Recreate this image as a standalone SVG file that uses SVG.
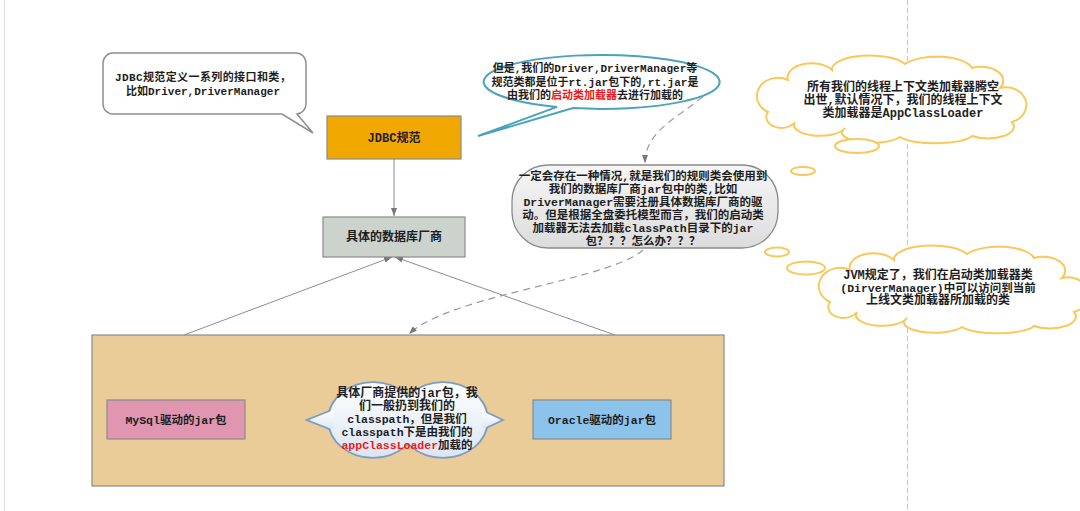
<svg xmlns="http://www.w3.org/2000/svg" width="1080" height="511" viewBox="0 0 1080 511">
<style>
.t{font-family:"Liberation Mono","Noto Sans CJK SC",monospace;font-weight:bold;fill:#1e1e1e;text-anchor:middle;}
.s11{font-size:11px;}
.s12{font-size:12px;}
.s115{font-size:11.5px;}
.red{fill:#f01818;}
.box{stroke:#8a8a8a;stroke-width:1.2;}
.conn{fill:none;stroke:#8c8c8c;stroke-width:1;}
.dash{fill:none;stroke:#9a9a9a;stroke-width:1.2;stroke-dasharray:7,5;}
.cloud{fill:#fff;stroke:#f9c858;stroke-width:2;}
.bub{fill:#fff;stroke:#f9c858;stroke-width:2;}
</style>
<defs>
<marker id="arr" markerUnits="userSpaceOnUse" markerWidth="8" markerHeight="6" refX="8" refY="3" orient="auto">
<path d="M0,0 L8,3 L0,6 z" fill="#777"/>
</marker>
<linearGradient id="gGray" x1="0" y1="0" x2="0" y2="1">
<stop offset="0" stop-color="#f6f6f6"/>
<stop offset="1" stop-color="#dcdcdc"/>
</linearGradient>
<linearGradient id="gBlue" x1="0" y1="0" x2="0" y2="1">
<stop offset="0" stop-color="#ffffff"/>
<stop offset="1" stop-color="#dbe5f2"/>
</linearGradient>
<path id="cloudShape" d="M768,112 A14,12 0 0 1 788,80 A24,14 0 0 1 832,70 A38,14 0 0 1 905,64 A36,14 0 0 1 972,68 A22,14 0 0 1 1000,88 A16,14 0 0 1 1012,122 A26,12 0 0 1 972,136 A38,10 0 0 1 900,137 A30,10 0 0 1 845,128 A24,10 0 0 1 795,122 A14,10 0 0 1 768,112 Z"/>
</defs>
<rect width="1080" height="511" fill="#ffffff"/>
<line x1="4.5" y1="0" x2="4.5" y2="511" stroke="#dddddd" stroke-width="1"/>
<line x1="907.5" y1="0" x2="907.5" y2="511" stroke="#c4c4c4" stroke-width="1" stroke-dasharray="5,3"/>

<g id="vendor-container">
<rect x="92" y="335" width="632" height="151" fill="#e9cc98" class="box"/>
</g>

<g id="connectors">
<line class="conn" x1="394" y1="159" x2="394" y2="216" marker-end="url(#arr)"/>
<line class="conn" x1="184" y1="335" x2="392" y2="257" marker-end="url(#arr)"/>
<line class="conn" x1="615" y1="335" x2="395" y2="257" marker-end="url(#arr)"/>
<path class="dash" d="M720,80 C690,115 645,125 645,163" marker-end="url(#arr)"/>
<path class="dash" d="M643,250 C610,280 450,295 409,334" marker-end="url(#arr)"/>
</g>

<g id="callout-jdbc-def">
<path d="M113,53 H296 A10,10 0 0 1 306,63 V104 A10,10 0 0 1 297,114 L313,133 L282,114 H113 A10,10 0 0 1 103,104 V63 A10,10 0 0 1 113,53 Z" fill="#fff" stroke="#8f8f8f" stroke-width="1.5"/>
<text class="t s11" x="203" y="81" letter-spacing="0.4">JDBC规范定义一系列的接口和类，</text>
<text class="t s11" x="203" y="95">比如Driver,DriverManager</text>
</g>

<g id="node-jdbc">
<rect x="327" y="116" width="134" height="43" fill="#f0a700" class="box"/>
<text class="t s12" x="394" y="142">JDBC规范</text>
</g>

<g id="node-vendor">
<rect x="323" y="217" width="142" height="40" fill="#cbd3cc" class="box"/>
<text class="t s12" x="394" y="241">具体的数据库厂商</text>
</g>

<g id="callout-bootstrap">
<path d="M573,108.1 A118,27 0 1 0 557,106.9 L478,136 Z" fill="#fff" stroke="#4aa3b9" stroke-width="2"/>
<text class="t s11" x="595" y="72">但是,我们的Driver,DriverManager等</text>
<text class="t s11" x="595" y="85.5">规范类都是位于rt.jar包下的,rt.jar是</text>
<text class="t s11" x="595" y="99">由我们的<tspan class="red">启动类加载器</tspan>去进行加载的</text>
</g>

<g id="callout-problem">
<rect x="512" y="165" width="266" height="83" rx="36" ry="36" fill="url(#gGray)" stroke="#8a8a8a" stroke-width="1.3"/>
<text class="t s115" x="643" y="179.5">一定会存在一种情况,就是我们的规则类会使用到</text>
<text class="t s115" x="643" y="192.5">我们的数据库厂商jar包中的类,比如</text>
<text class="t s115" x="643" y="205.5">DriverManager需要注册具体数据库厂商的驱</text>
<text class="t s115" x="643" y="218.5">动。但是根据全盘委托模型而言，我们的启动类</text>
<text class="t s115" x="643" y="231.5">加载器无法去加载classPath目录下的jar</text>
<text class="t s115" x="643" y="244.5">包？？？怎么办？？？</text>
</g>

<g id="cloud-context">
<use href="#cloudShape" class="cloud"/>
<ellipse class="bub" cx="857" cy="146" rx="22" ry="7"/>
<ellipse class="bub" cx="803" cy="171" rx="12" ry="4"/>
<text class="t s12" x="903" y="91">所有我们的线程上下文类加载器腾空</text>
<text class="t s12" x="903" y="104">出世,默认情况下，我们的线程上下文</text>
<text class="t s12" x="903" y="117">类加载器是AppClassLoader</text>
</g>

<g id="cloud-jvm">
<ellipse class="bub" cx="777" cy="252" rx="12" ry="4.5"/>
<ellipse class="bub" cx="806" cy="268" rx="19" ry="6.5"/>
<use href="#cloudShape" class="cloud" transform="translate(62,190)"/>
<text class="t s12" x="938" y="279">JVM规定了，我们在启动类加载器类</text>
<text class="t s115" x="938" y="291.5">(DirverManager)中可以访问到当前</text>
<text class="t s12" x="938" y="304">上线文类加载器所加载的类</text>
</g>

<g id="node-mysql">
<rect x="107" y="400" width="138" height="39" fill="#e096b1" class="box"/>
<text class="t s115" x="176" y="424">MySql驱动的jar包</text>
</g>

<g id="node-oracle">
<rect x="533" y="400" width="138" height="39" fill="#8bc3ea" class="box"/>
<text class="t s115" x="602" y="424">Oracle驱动的jar包</text>
</g>

<g id="callout-classpath">
<g stroke="#7b9cc4" stroke-width="3.5" fill="#fff">
<ellipse cx="373" cy="420" rx="44" ry="37"/>
<ellipse cx="443" cy="420" rx="44" ry="37"/>
<path d="M334,410 L309,420 L334,430 Z"/>
<path d="M482,411 L501,420 L482,429 Z"/>
</g>
<g fill="url(#gBlue)">
<ellipse cx="373" cy="420" rx="44" ry="37"/>
<ellipse cx="443" cy="420" rx="44" ry="37"/>
<path d="M334,410 L309,420 L334,430 Z"/>
<path d="M482,411 L501,420 L482,429 Z"/>
</g>
<text class="t s12" x="407" y="397">具体厂商提供的jar包，我</text>
<text class="t s12" x="407" y="410">们一般扔到我们的</text>
<text class="t s115" x="407" y="423">classpath，但是我们</text>
<text class="t s115" x="407" y="436">classpath下是由我们的</text>
<text class="t s115" x="407" y="449"><tspan class="red">appClassLoader</tspan>加载的</text>
</g>
</svg>
